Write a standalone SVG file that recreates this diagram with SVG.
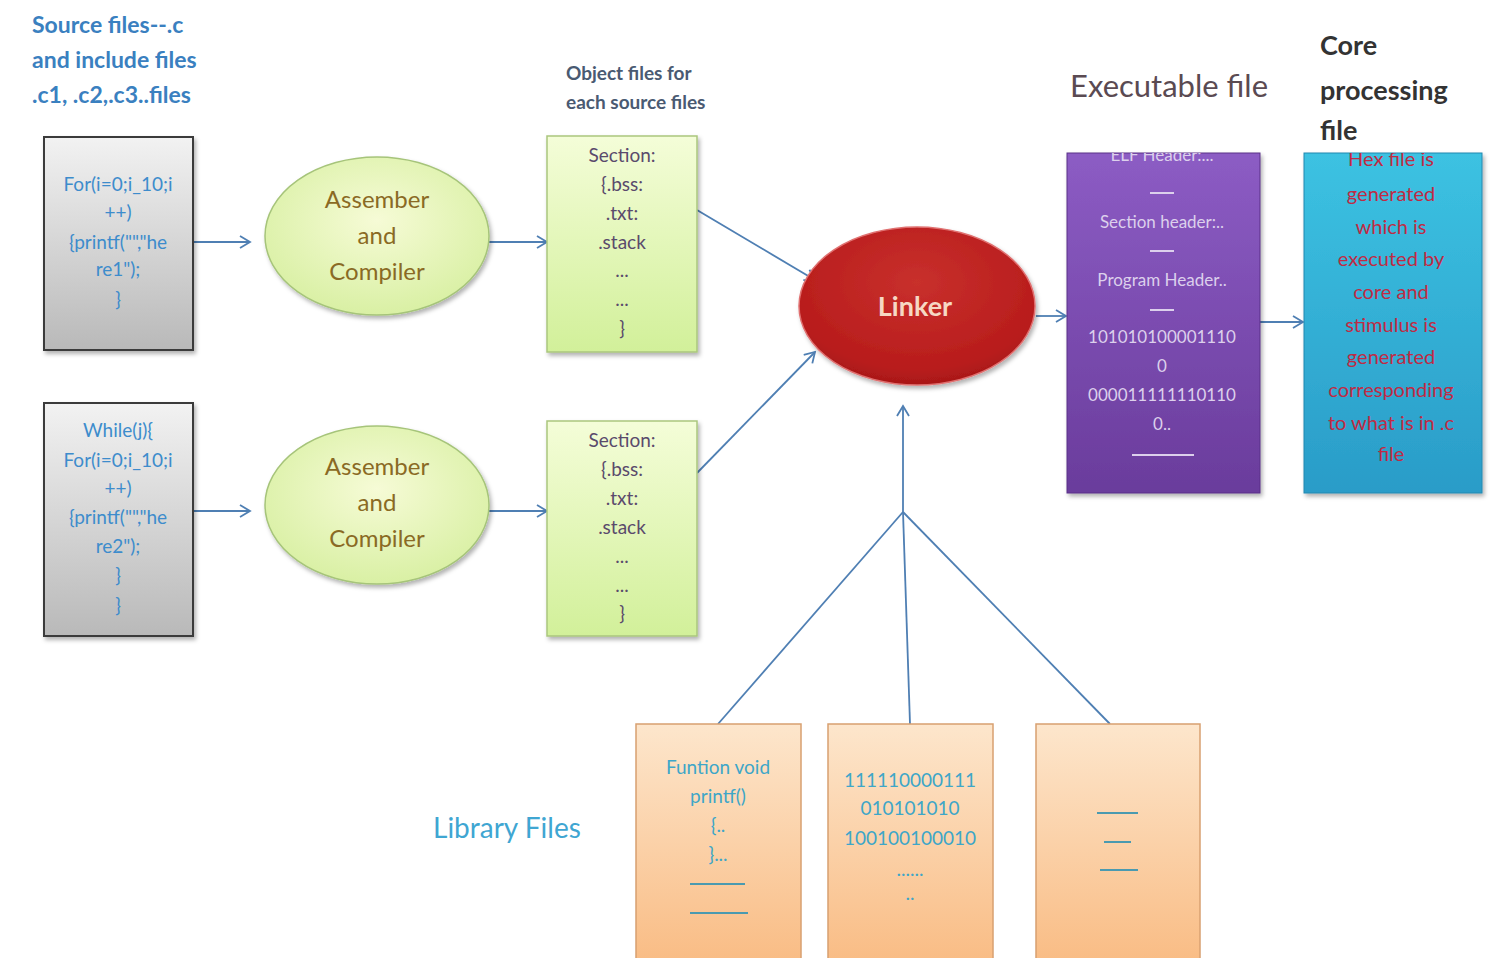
<svg xmlns="http://www.w3.org/2000/svg" width="1490" height="958" viewBox="0 0 1490 958">
<defs>
<linearGradient id="gGray" x1="0" y1="0" x2="0" y2="1"><stop offset="0" stop-color="#f2f2f2"/><stop offset="1" stop-color="#b9b9b9"/></linearGradient>
<linearGradient id="gGreenBox" x1="0" y1="0" x2="0" y2="1"><stop offset="0" stop-color="#f4fdd8"/><stop offset="1" stop-color="#d2f09a"/></linearGradient>
<radialGradient id="gGreenEl" cx="0.5" cy="0.4" r="0.6"><stop offset="0" stop-color="#f6fbd6"/><stop offset="1" stop-color="#d9f0a4"/></radialGradient>
<radialGradient id="gRed" cx="0.5" cy="0.35" r="0.65"><stop offset="0" stop-color="#c8302c"/><stop offset="0.85" stop-color="#b81c1c"/><stop offset="1" stop-color="#a81818"/></radialGradient>
<linearGradient id="gPurple" x1="0" y1="0" x2="0" y2="1"><stop offset="0" stop-color="#8c5cc4"/><stop offset="1" stop-color="#6a3c9c"/></linearGradient>
<linearGradient id="gCyan" x1="0" y1="0" x2="0" y2="1"><stop offset="0" stop-color="#3cc2e2"/><stop offset="1" stop-color="#2a9cc8"/></linearGradient>
<linearGradient id="gOrange" x1="0" y1="0" x2="0" y2="1"><stop offset="0" stop-color="#fde6cc"/><stop offset="1" stop-color="#f9bc84"/></linearGradient>
<filter id="sh" x="-10%" y="-10%" width="130%" height="130%"><feDropShadow dx="2" dy="3" stdDeviation="2" flood-color="#000" flood-opacity="0.3"/></filter>
<marker id="arr" markerWidth="14" markerHeight="14" refX="12" refY="7" orient="auto" markerUnits="userSpaceOnUse">
<path d="M2,1 L12,7 L2,13" fill="none" stroke="#4f7fb3" stroke-width="1.8"/>
</marker>
<clipPath id="cpPurple"><rect x="1067" y="153" width="193" height="340"/></clipPath>
<clipPath id="cpCyan"><rect x="1304" y="153" width="178" height="340"/></clipPath>
</defs>
<style>
.lbl{font-family:Lato,"Open Sans","Liberation Sans",sans-serif}
.src{font-family:Lato,"Liberation Sans",sans-serif;font-size:19px;fill:#3d8ccc;text-anchor:middle}
.asm{font-family:Lato,"Liberation Sans",sans-serif;font-size:24px;fill:#8a6a24;text-anchor:middle}
.obj{font-family:Lato,"Liberation Sans",sans-serif;font-size:19px;fill:#5a4a6c;text-anchor:middle}
.exe{font-family:Lato,"Liberation Sans",sans-serif;font-size:17px;fill:#dcd0ec;text-anchor:middle}
.hex{font-family:Lato,"Liberation Sans",sans-serif;font-size:20px;fill:#c02a44;text-anchor:middle}
.lib{font-family:Lato,"Liberation Sans",sans-serif;font-size:19px;fill:#3ea6c8;text-anchor:middle}
.conn{stroke:#4f7fb3;stroke-width:1.8;fill:none}
</style>

<g id="labels">
<text class="lbl" x="32" y="33" font-size="23" font-weight="bold" fill="#3a80c0">Source files--.c</text>
<text class="lbl" x="32" y="68" font-size="23" font-weight="bold" fill="#3a80c0">and include files</text>
<text class="lbl" x="32" y="103" font-size="23" font-weight="bold" fill="#3a80c0">.c1, .c2,.c3..files</text>
<text class="lbl" x="566" y="80" font-size="19" font-weight="bold" fill="#4a5a72">Object files for</text>
<text class="lbl" x="566" y="109" font-size="19" font-weight="bold" fill="#4a5a72">each source files</text>
<text class="lbl" x="1070" y="97" font-size="31" fill="#5a4a52">Executable file</text>
<text class="lbl" x="1320" y="55" font-size="27" font-weight="bold" fill="#333">Core</text>
<text class="lbl" x="1320" y="100" font-size="27" font-weight="bold" fill="#333">processing</text>
<text class="lbl" x="1320" y="140" font-size="27" font-weight="bold" fill="#333">file</text>
<text class="lbl" x="433" y="838" font-size="28" fill="#3fa6d2">Library Files</text>
</g>

<g id="connectors">
<line class="conn" x1="193" y1="242" x2="250" y2="242" marker-end="url(#arr)"/>
<line class="conn" x1="489" y1="242" x2="547" y2="242" marker-end="url(#arr)"/>
<line class="conn" x1="193" y1="511" x2="250" y2="511" marker-end="url(#arr)"/>
<line class="conn" x1="489" y1="511" x2="547" y2="511" marker-end="url(#arr)"/>
<line class="conn" x1="697" y1="210" x2="815" y2="280" marker-end="url(#arr)"/>
<line class="conn" x1="697" y1="473" x2="815" y2="352" marker-end="url(#arr)"/>
<line class="conn" x1="1036" y1="316" x2="1066" y2="316" marker-end="url(#arr)"/>
<line class="conn" x1="1260" y1="322" x2="1303" y2="322" marker-end="url(#arr)"/>
<line class="conn" x1="903" y1="512" x2="903" y2="406" marker-end="url(#arr)"/>
<line class="conn" x1="903" y1="512" x2="718" y2="724"/>
<line class="conn" x1="903" y1="512" x2="910" y2="724"/>
<line class="conn" x1="903" y1="512" x2="1110" y2="724"/>
</g>

<g id="src1">
<rect x="44" y="137" width="149" height="213" fill="url(#gGray)" stroke="#3a3a3a" stroke-width="2" filter="url(#sh)"/>
<text class="src" x="118" y="191">For(i=0;i_10;i</text>
<text class="src" x="118" y="219">++)</text>
<text class="src" x="118" y="249">{printf("","he</text>
<text class="src" x="118" y="276">re1");</text>
<text class="src" x="118" y="306">}</text>
</g>
<g id="src2">
<rect x="44" y="403" width="149" height="233" fill="url(#gGray)" stroke="#3a3a3a" stroke-width="2" filter="url(#sh)"/>
<text class="src" x="118" y="437">While(j){</text>
<text class="src" x="118" y="467">For(i=0;i_10;i</text>
<text class="src" x="118" y="495">++)</text>
<text class="src" x="118" y="524">{printf("","he</text>
<text class="src" x="118" y="553">re2");</text>
<text class="src" x="118" y="582">}</text>
<text class="src" x="118" y="612">}</text>
</g>

<g id="asm1">
<ellipse cx="377" cy="236" rx="112" ry="79" fill="url(#gGreenEl)" stroke="#a6c47a" stroke-width="1.5" filter="url(#sh)"/>
<text class="asm" x="377" y="208">Assember</text>
<text class="asm" x="377" y="244">and</text>
<text class="asm" x="377" y="280">Compiler</text>
</g>
<g id="asm2">
<ellipse cx="377" cy="505" rx="112" ry="79" fill="url(#gGreenEl)" stroke="#a6c47a" stroke-width="1.5" filter="url(#sh)"/>
<text class="asm" x="377" y="475">Assember</text>
<text class="asm" x="377" y="511">and</text>
<text class="asm" x="377" y="547">Compiler</text>
</g>

<g id="obj1">
<rect x="547" y="136" width="150" height="216" fill="url(#gGreenBox)" stroke="#aac67e" stroke-width="1.5" filter="url(#sh)"/>
<text class="obj" x="622" y="162">Section:</text>
<text class="obj" x="622" y="191">{.bss:</text>
<text class="obj" x="622" y="220">.txt:</text>
<text class="obj" x="622" y="249">.stack</text>
<text class="obj" x="622" y="277" font-size="12">...</text>
<text class="obj" x="622" y="306" font-size="12">...</text>
<text class="obj" x="622" y="335">}</text>
</g>
<g id="obj2">
<rect x="547" y="421" width="150" height="215" fill="url(#gGreenBox)" stroke="#aac67e" stroke-width="1.5" filter="url(#sh)"/>
<text class="obj" x="622" y="447">Section:</text>
<text class="obj" x="622" y="476">{.bss:</text>
<text class="obj" x="622" y="505">.txt:</text>
<text class="obj" x="622" y="534">.stack</text>
<text class="obj" x="622" y="563" font-size="12">...</text>
<text class="obj" x="622" y="592" font-size="12">...</text>
<text class="obj" x="622" y="620">}</text>
</g>

<g id="linker">
<ellipse cx="917" cy="306" rx="118" ry="79" fill="url(#gRed)" stroke="#e07070" stroke-width="1.5" filter="url(#sh)"/>
<text x="915" y="316" font-family="Lato,'Liberation Sans',sans-serif" font-size="27" font-weight="bold" fill="#f6d8c4" text-anchor="middle">Linker</text>
</g>

<g id="exe">
<rect x="1067" y="153" width="193" height="340" fill="url(#gPurple)" stroke="#5a3088" stroke-width="1" filter="url(#sh)"/>
<g clip-path="url(#cpPurple)">
<text class="exe" x="1162" y="161">ELF Header:...</text>
</g>
<line x1="1150" y1="193" x2="1174" y2="193" stroke="#dcd0ec" stroke-width="2"/>
<text class="exe" x="1162" y="228">Section header:..</text>
<line x1="1150" y1="251" x2="1174" y2="251" stroke="#dcd0ec" stroke-width="2"/>
<text class="exe" x="1162" y="286">Program Header..</text>
<line x1="1150" y1="310" x2="1174" y2="310" stroke="#dcd0ec" stroke-width="2"/>
<text class="exe" x="1162" y="343">101010100001110</text>
<text class="exe" x="1162" y="372">0</text>
<text class="exe" x="1162" y="401">000011111110110</text>
<text class="exe" x="1162" y="430">0..</text>
<line x1="1132" y1="455" x2="1194" y2="455" stroke="#dcd0ec" stroke-width="2"/>
</g>

<g id="core">
<rect x="1304" y="153" width="178" height="340" fill="url(#gCyan)" stroke="#2088b0" stroke-width="1" filter="url(#sh)"/>
<g clip-path="url(#cpCyan)">
<text class="hex" x="1391" y="166">Hex file is</text>
</g>
<text class="hex" x="1391" y="201">generated</text>
<text class="hex" x="1391" y="234">which is</text>
<text class="hex" x="1391" y="266">executed by</text>
<text class="hex" x="1391" y="299">core and</text>
<text class="hex" x="1391" y="332">stimulus is</text>
<text class="hex" x="1391" y="364">generated</text>
<text class="hex" x="1391" y="397">corresponding</text>
<text class="hex" x="1391" y="430">to what is in .c</text>
<text class="hex" x="1391" y="461">file</text>
</g>

<g id="lib1">
<rect x="636" y="724" width="165" height="240" fill="url(#gOrange)" stroke="#d8a070" stroke-width="1.5"/>
<text class="lib" x="718" y="774">Funtion void</text>
<text class="lib" x="718" y="803">printf()</text>
<text class="lib" x="718" y="832">{..</text>
<text class="lib" x="718" y="861">}...</text>
<line x1="690" y1="884" x2="745" y2="884" stroke="#4a9ab0" stroke-width="2"/>
<line x1="690" y1="913" x2="748" y2="913" stroke="#4a9ab0" stroke-width="2"/>
</g>
<g id="lib2">
<rect x="828" y="724" width="165" height="240" fill="url(#gOrange)" stroke="#d8a070" stroke-width="1.5"/>
<text class="lib" x="910" y="787" fill="#4aa2b4">111110000111</text>
<text class="lib" x="910" y="815" fill="#4aa2b4">010101010</text>
<text class="lib" x="910" y="845" fill="#4aa2b4">100100100010</text>
<text class="lib" x="910" y="876" font-size="10" fill="#4aa2b4">......</text>
<text class="lib" x="910" y="900" font-size="10" fill="#4aa2b4">..</text>
</g>
<g id="lib3">
<rect x="1036" y="724" width="164" height="240" fill="url(#gOrange)" stroke="#d8a070" stroke-width="1.5"/>
<line x1="1097" y1="813" x2="1138" y2="813" stroke="#4a9ab0" stroke-width="2"/>
<line x1="1104" y1="842" x2="1131" y2="842" stroke="#4a9ab0" stroke-width="2"/>
<line x1="1100" y1="870" x2="1138" y2="870" stroke="#4a9ab0" stroke-width="2"/>
</g>
</svg>
